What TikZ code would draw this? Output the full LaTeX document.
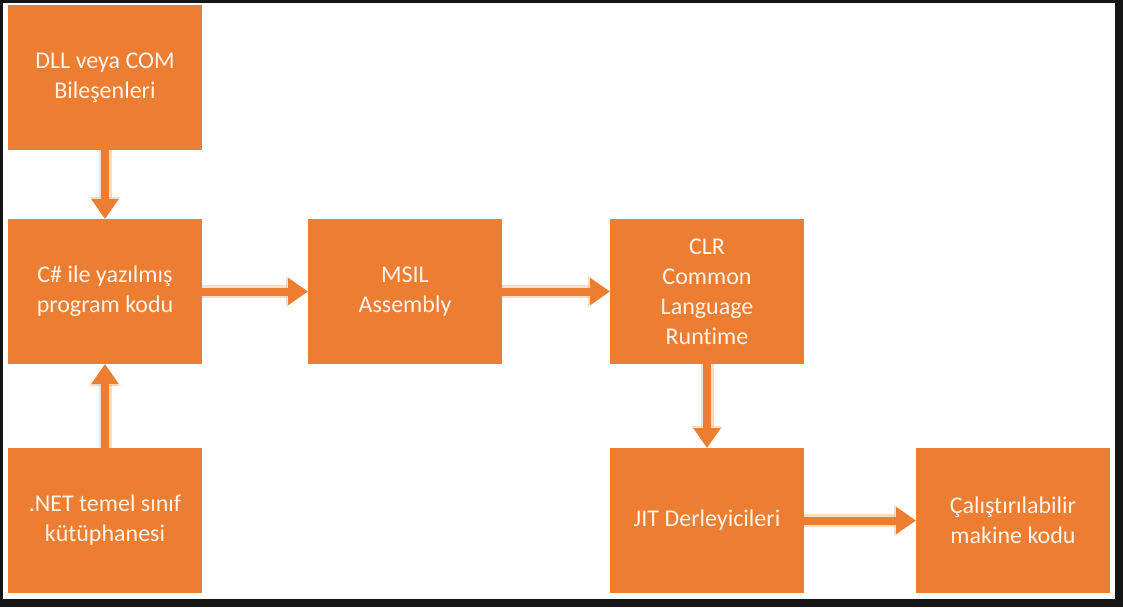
\documentclass[tikz,border=0pt]{standalone}
\usepackage{fontspec}
\setmainfont[Ligatures=NoCommon]{Carlito}
\usepackage{tikz}
\usetikzlibrary{positioning,arrows.meta}
\definecolor{boxorange}{HTML}{ED7D31}
\definecolor{frame}{HTML}{161616}
\tikzset{
  chart/.style={
    node distance=34.5pt,
    every node/.style={outer sep=0pt}},
  box/.style = {rectangle,fill=boxorange,draw=none,text=white!92!boxorange,align=center,
    minimum width=97pt,minimum height=72.5pt,inner sep=2pt,
    font=\fontsize{12}{15}\selectfont},
  flow/.style={-{Triangle[width=13pt,length=10pt]},draw=boxorange,line width=4pt,
    preaction={draw=boxorange,opacity=0.25,line width=6.5pt,-{Triangle[width=15pt,length=11pt]}}}
}
\begin{document}
\begin{tikzpicture}[chart]
      \fill[frame] (0,0) rectangle (561.5pt,-303.5pt);
      \fill[white] (1.5pt,-1.5pt) rectangle (557.5pt,-299.5pt);
      \node[box] (dll) at (52.5pt,-38.75pt) {DLL veya COM\\Bileşenleri};
      \node[box] (csharp) [below=of dll] {C\# ile yazılmış\\program kodu};
      \node[box] (netlib) [below=42pt of csharp] {.NET temel sınıf\\kütüphanesi};
      \node[box] (msil) [right=53pt of csharp] {MSIL\\Assembly};
      \node[box] (clr) [right=54pt of msil] {CLR\\Common\\Language\\Runtime};
      \node[box] (jit) [below=42pt of clr] {JIT Derleyicileri};
      \node[box] (exe) [right=56pt of jit] {Çalıştırılabilir\\makine kodu};
      \draw[flow] (dll) to (csharp);
      \draw[flow] (netlib) to (csharp);
      \draw[flow] (csharp) to (msil);
      \draw[flow] (msil) to (clr);
      \draw[flow] (clr) to (jit);
      \draw[flow] (jit) to (exe);
    \end{tikzpicture}
\end{document}
